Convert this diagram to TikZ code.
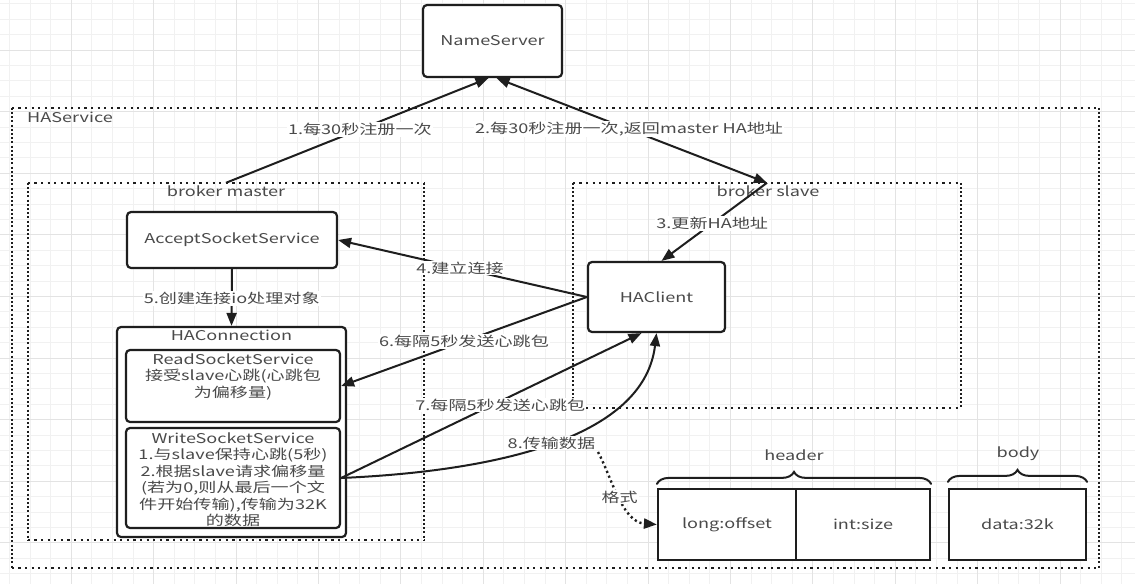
\documentclass[tikz,border=0pt]{standalone}
\usepackage{fontspec}
\setmainfont{Noto Sans CJK SC}[FakeStretch=1.34]
\usetikzlibrary{arrows.meta,decorations.pathreplacing,calc}
\definecolor{ink}{HTML}{1E1E1E}
\definecolor{txt}{HTML}{4A4A4A}
\definecolor{gridminor}{HTML}{F1F1F1}
\definecolor{gridmajor}{HTML}{E3E3E3}
\tikzset{
  box/.style={draw=ink, line width=2.2pt, rounded corners=4pt, fill=white, inner sep=0pt},
  sqbox/.style={draw=ink, line width=2.2pt, fill=white, inner sep=0pt},
  area/.style={draw=none, inner sep=0pt},
  hdot/.style={draw=ink, line width=2.2pt, dash pattern=on 2.2pt off 4.4pt},
  vdot/.style={draw=ink, line width=2.2pt, dash pattern=on 2pt off 2.2pt},
  conn/.style={draw=ink, line width=2pt},
  tip/.style={-{Triangle[length=13pt,width=10pt]}},
  lbl/.style={fill=white, inner sep=1pt, text=txt},
  plain/.style={inner sep=0pt, text=txt},
}
\begin{document}
\begin{tikzpicture}[x=1pt,y=-1pt,font=\fontsize{13.5}{16.5}\selectfont]
\useasboundingbox (0,0) rectangle (1135,584);
\fill[white] (0,0) rectangle (1135,584);
% background grid
\foreach \i in {0,...,54} {\draw[gridminor, line width=0.8pt] ({9.4+20.6*\i},0) -- ({9.4+20.6*\i},584);}
\foreach \j in {0,...,37} {\draw[gridminor, line width=0.8pt] (0,{3.8+15.4*\j}) -- (1135,{3.8+15.4*\j});}
\foreach \i in {0,...,13} {\draw[gridmajor, line width=0.8pt] ({71.2+82.4*\i},0) -- ({71.2+82.4*\i},584);}
\foreach \j in {0,...,9} {\draw[gridmajor, line width=0.8pt] (0,{50+61.6*\j}) -- (1135,{50+61.6*\j});}

% containers
\node[area, minimum width=1087pt, minimum height=460pt] (has) at (555.5,338) {};
\node[area, minimum width=396pt, minimum height=357pt] (bm) at (226,361.5) {};
\node[area, minimum width=388pt, minimum height=225pt] (bs) at (767,295.5) {};
\foreach \c in {has,bm,bs} {
  \draw[hdot] (\c.north west) -- (\c.north east);
  \draw[hdot] (\c.south west) -- (\c.south east);
  \draw[vdot] (\c.north west) -- (\c.south west);
  \draw[vdot] (\c.north east) -- (\c.south east);
}
\node[plain, anchor=west] (hasl) at (27,117) {HAService};
\node[plain] (bml) at (226,191) {broker master};
\node[plain] (bsl) at (768,191) {broker slave};

% boxes
\node[box, minimum width=139pt, minimum height=72pt, text=txt] (ns) at (492.5,41) {NameServer};
\node[box, minimum width=210pt, minimum height=56pt, text=txt] (acc) at (232,240) {AcceptSocketService};
\node[box, minimum width=229pt, minimum height=210pt] (hcon) at (231.5,432) {};
\node[plain] (hconl) at (231.5,335) {HAConnection};
\node[box, minimum width=214pt, minimum height=72pt] (read) at (233,386) {};
\node[plain, anchor=north, align=center] (readt) at (233,353.5) {ReadSocketService\\接受slave心跳(心跳包\\为偏移量)};
\node[box, minimum width=214pt, minimum height=100pt] (write) at (233,478) {};
\node[plain, anchor=north, align=center] (writet) at (233,432.5) {WriteSocketService\\1.与slave保持心跳(5秒)\\2.根据slave请求偏移量\\(若为0,则从最后一个文\\件开始传输),传输为32K\\的数据};
\node[box, minimum width=137pt, minimum height=70pt, text=txt] (hac) at (656.5,297) {HAClient};

\node[sqbox, minimum width=138pt, minimum height=71pt, text=txt] (h1) at (727,524.5) {long:offset};
\node[sqbox, minimum width=134pt, minimum height=71pt, text=txt] (h2) at (863,524.5) {int:size};
\node[sqbox, minimum width=137pt, minimum height=71pt, text=txt] (body) at (1017.5,524.5) {data:32k};

% braces
\draw[ink, line width=2pt, line cap=round, decorate, decoration={brace, amplitude=12pt}]
  ([yshift=4pt]h1.north west) -- ([yshift=4pt]h2.north east);
\draw[ink, line width=2pt, line cap=round, decorate, decoration={brace, amplitude=12pt}]
  ([yshift=6pt]body.north west) -- ([yshift=6pt]body.north east);
\node[plain] (hdr) at (794,455) {header};
\node[plain] (bdy) at (1018,454) {body};

% connectors
\draw[conn, tip] (bm.north) -- node[lbl, pos=0.51] {1.每30秒注册一次} ([xshift=-4pt]ns.south);
\draw[conn, {Triangle[length=13pt,width=10pt]}-{Triangle[length=13pt,width=10pt]}]
  ([xshift=4pt]ns.south) -- node[lbl, pos=0.49] {2.每30秒注册一次,返回master HA地址} (bs.north);
\draw[conn, tip] (bs.north) -- node[lbl, pos=0.52] {3.更新HA地址} ([xshift=5pt]hac.north);
\draw[conn, tip] (hac.west) -- node[lbl, pos=0.51] {4.建立连接} (acc.east);
\draw[conn, tip] (acc.south) -- node[lbl, pos=0.52] {5.创建连接io处理对象} (hcon.north);
\draw[conn, tip] (hac.west) -- node[lbl, pos=0.5] {6.每隔5秒发送心跳包} (read.east);
\draw[conn, tip] (write.east) -- node[lbl, pos=0.53, yshift=-4pt] {7.每隔5秒发送心跳包} ([xshift=-15pt]hac.south);
\draw[conn, tip] (write.east) .. controls (520,470) and (645,430) .. node[lbl, pos=0.47] (l8) {8.传输数据} (hac.south);
\coordinate (c9) at (598,452);
\draw[ink, line width=2.4pt, dash pattern=on 2.2pt off 3pt, -{Triangle[length=13pt,width=10pt]}]
  (c9) .. controls (612,478) and (622,522) .. node[lbl, pos=0.5] {格式} (h1.west);
\end{tikzpicture}
\end{document}
